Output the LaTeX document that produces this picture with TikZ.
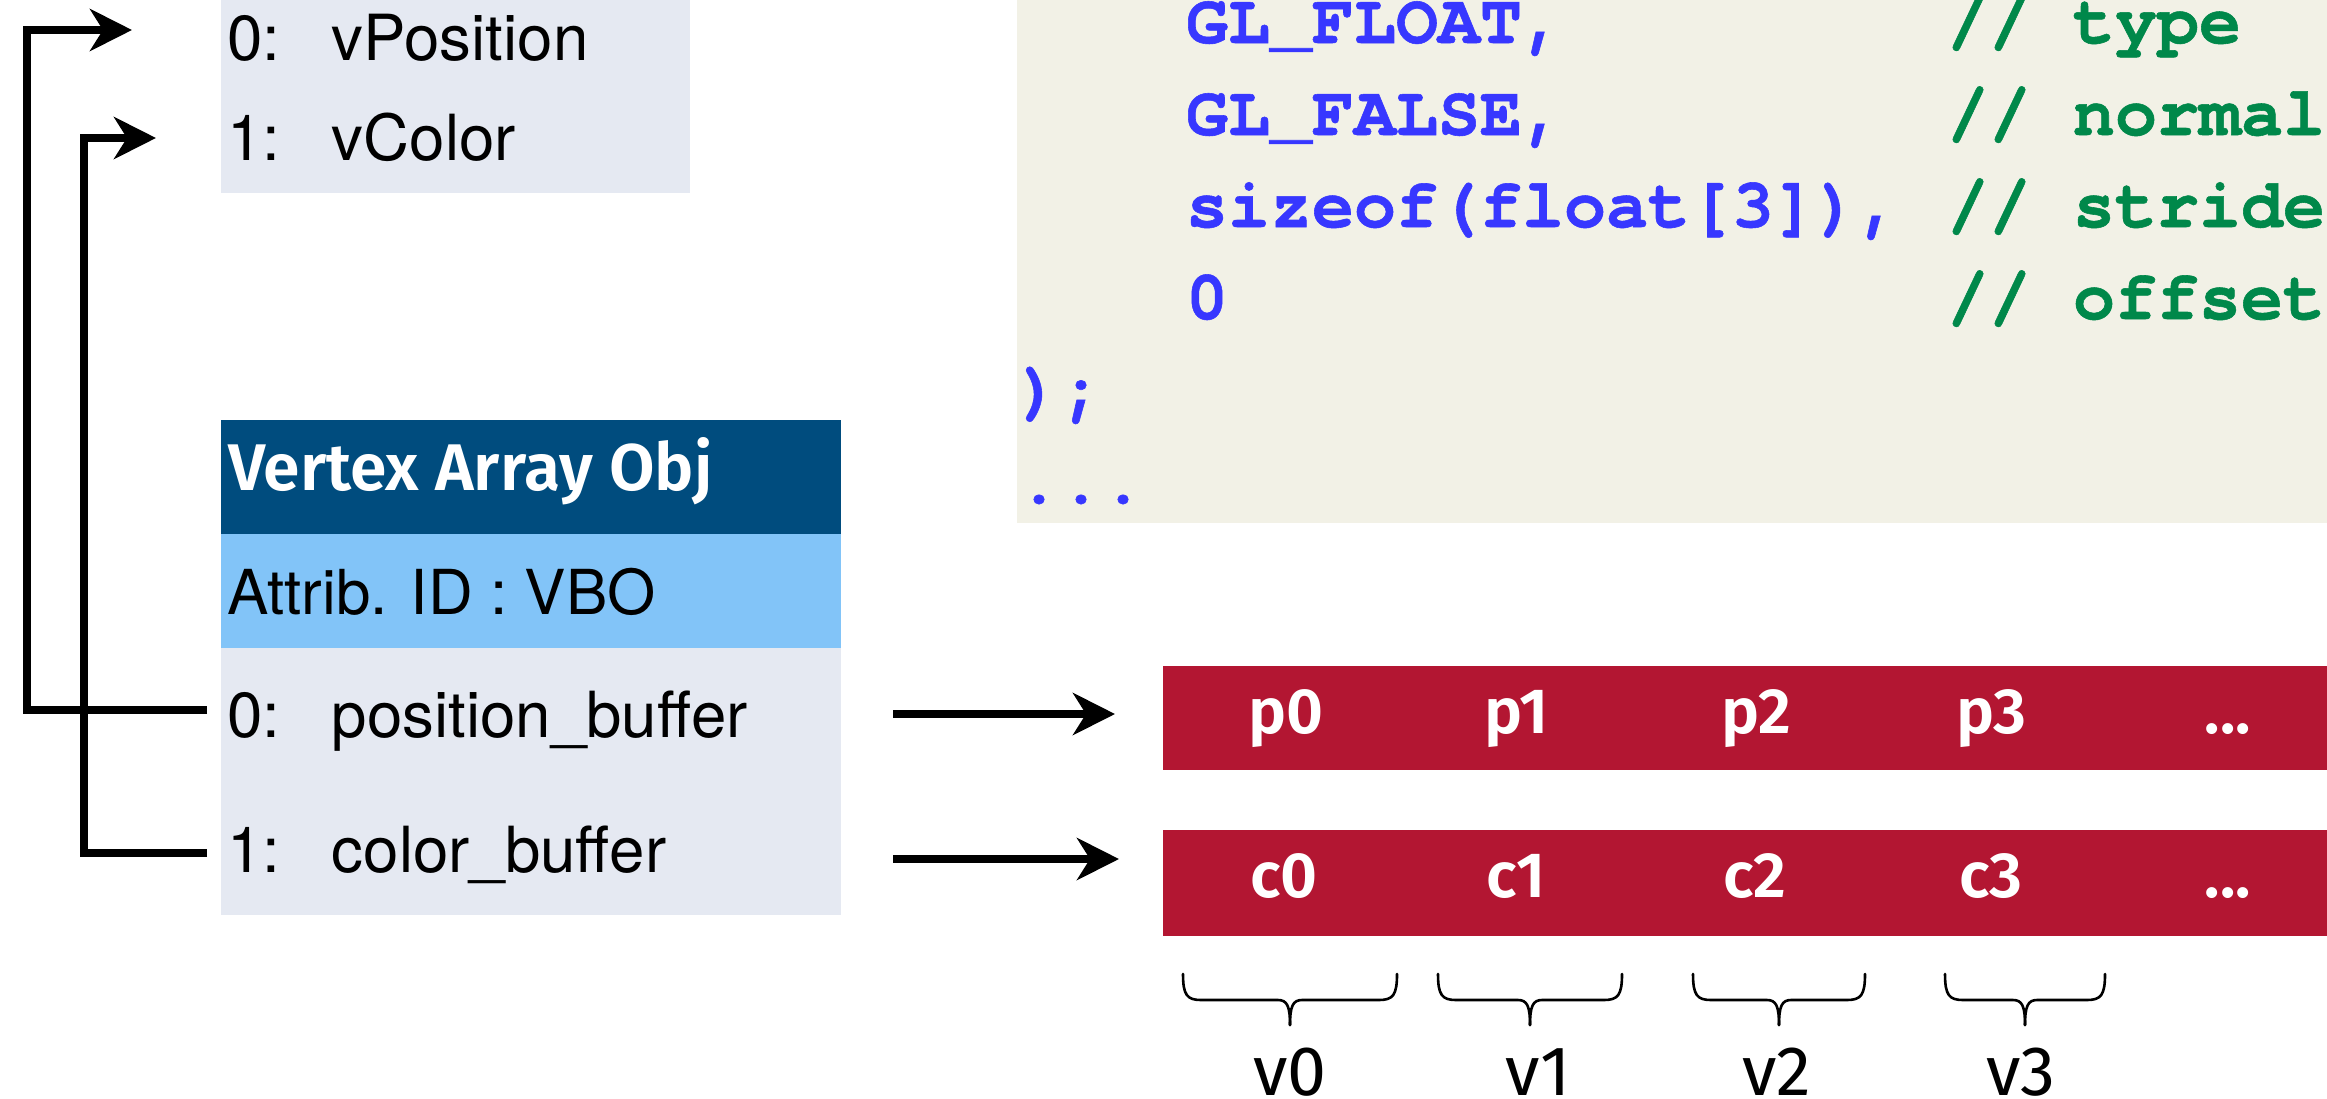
\documentclass[tikz,border=0pt]{standalone}
\usepackage{fontspec}
\setmainfont{TeX Gyre Heros}
\newfontfamily\firareg{Fira Sans}
\IfFontExistsTF{Fira Sans SemiBold}{\newfontfamily\firasemi{Fira Sans SemiBold}}{\newfontfamily\firasemi{Fira Sans}[FakeBold=1.2]}
\IfFontExistsTF{TeX Gyre Cursor}{\newfontfamily\codefont{TeX Gyre Cursor}[Ligatures={NoCommon,NoRequired}, BoldFeatures={FakeBold=0.8}]}{\newfontfamily\codefont{Liberation Mono}}
\usetikzlibrary{arrows.meta}

\definecolor{vaoHead}{RGB}{0,76,126}
\definecolor{vaoAttr}{RGB}{130,196,248}
\definecolor{rowGray}{RGB}{229,233,242}
\definecolor{codeBg}{RGB}{242,241,230}
\definecolor{codeBlue}{RGB}{55,55,255}
\definecolor{codeGreen}{RGB}{0,136,74}
\definecolor{bufRed}{RGB}{179,22,50}

\tikzset{
  plain/.style={inner sep=0pt, outer sep=0pt},
  panel/.style={plain, anchor=north west, draw=none},
  helv/.style={plain, anchor=base west, font=\fontsize{31.8}{32}\selectfont},
  codetxt/.style={plain, anchor=base west, text=codeBlue, font=\codefont\bfseries\fontsize{35}{35}\selectfont},
  commenttxt/.style={codetxt, text=codeGreen},
  celltxt/.style={plain, anchor=base, text=white, font=\firasemi\fontsize{32}{32}\selectfont},
  vlabel/.style={plain, anchor=base, text depth=0pt, font=\firareg\fontsize{35}{35}\selectfont},
  arr/.style={line width=3.75pt, -{Stealth[length=21pt,width=21pt,inset=6.5pt]}},
  bracestyle/.style={line width=1.3pt, line cap=round},
}

\newcommand\drawbrace[3]{%
  \draw[bracestyle] (#1,974) .. controls (#1,995) and (#1+4,1000) .. (#1+18,1000)
     -- (#2-12,1000) .. controls (#2-3,1000) and (#2,1006) .. (#2,1025);
  \draw[bracestyle] (#3,974) .. controls (#3,995) and (#3-4,1000) .. (#3-18,1000)
     -- (#2+12,1000) .. controls (#2+3,1000) and (#2,1006) .. (#2,1025);}

\begin{document}
\begin{tikzpicture}[x=0.5pt,y=-0.5pt]
\useasboundingbox (0,0) rectangle (2327,1098);
\clip (0,0) rectangle (2327,1098);

% ---- panels
\node[panel, fill=rowGray, minimum width=234.5pt, minimum height=101.5pt] (shader) at (221,-10) {};
\node[panel, fill=codeBg, minimum width=661.5pt, minimum height=266.5pt] (codebox) at (1017,-10) {};
\node[panel, fill=vaoHead, minimum width=310pt, minimum height=57pt] (vaohead) at (221,420) {};
\node[panel, fill=vaoAttr, minimum width=310pt, minimum height=57pt] (vaoattr) at (221,534) {};
\node[panel, fill=rowGray, minimum width=310pt, minimum height=133.5pt] (vaorows) at (221,648) {};
\node[panel, fill=bufRed, minimum width=588.5pt, minimum height=52pt] (pbar) at (1163,666) {};
\node[panel, fill=bufRed, minimum width=588.5pt, minimum height=53pt] (cbar) at (1163,830) {};

% ---- shader attribute list
\node[helv] (vpos) at (227,60) {\makebox[52.5pt][l]{0:}vPosition};
\node[helv] (vcol) at (227,160) {\makebox[52.5pt][l]{1:}vColor};

% ---- VAO
\node[plain, anchor=base west, text=white, font=\firasemi\fontsize{33}{33}\selectfont] (vaotitle) at (228,490) {Vertex Array Obj};
\node[helv, font=\fontsize{31}{31}\selectfont] (attrid) at (227,614) {Attrib. ID : VBO};
\node[helv] (posbuf) at (227,737) {\makebox[52.5pt][l]{0:}position\_buffer};
\node[helv] (colbuf) at (227,872) {\makebox[52.5pt][l]{1:}color\_buffer};

% ---- code
\node[codetxt] (c1) at (1186,43) {GL\_FLOAT,};
\node[codetxt] (c2) at (1186,135) {GL\_FALSE,};
\node[codetxt] (c3) at (1186,227) {sizeof(float[3]),};
\node[codetxt] (c4) at (1186,319) {0};
\node[codetxt] (c5) at (1018,411) {);};
\node[codetxt] (c6) at (1018,503) {...};
\node[commenttxt] (k1) at (1947,43) {// type};
\node[commenttxt] (k2) at (1947,135) {// normal};
\node[commenttxt] (k3) at (1947,227) {// stride};
\node[commenttxt] (k4) at (1947,319) {// offset};

% ---- buffer cells
\node[celltxt] (p0) at (1286,733) {p0};
\node[celltxt] (p1) at (1517,733) {p1};
\node[celltxt] (p2) at (1756,733) {p2};
\node[celltxt] (p3) at (1991,733) {p3};
\node[celltxt] (pd) at (2228,733) {...};
\node[celltxt] (q0) at (1284,897) {c0};
\node[celltxt] (q1) at (1516,897) {c1};
\node[celltxt] (q2) at (1755,897) {c2};
\node[celltxt] (q3) at (1991,897) {c3};
\node[celltxt] (qd) at (2228,897) {...};

% ---- braces and vertex labels
\drawbrace{1183}{1290}{1397}
\drawbrace{1438}{1530}{1622}
\drawbrace{1693}{1779}{1865}
\drawbrace{1945}{2025}{2105}
\node[vlabel] (v0) at (1290,1095) {v0};
\node[vlabel] (v1) at (1538,1095) {v1};
\node[vlabel] (v2) at (1777,1095) {v2};
\node[vlabel] (v3) at (2021,1095) {v3};

% ---- connectors
\coordinate (aStart) at (207,710);
\coordinate (aTip) at (132,30);
\coordinate (bStart) at (207,853);
\coordinate (bTip) at (156,138);
\draw[arr] (aStart) -- (27,710) -- (27,30) -- (aTip);
\draw[arr] (bStart) -- (84,853) -- (84,138) -- (bTip);
\coordinate (pStart) at (893,714);
\coordinate (pTip) at (1115,714);
\coordinate (cStart) at (893,859);
\coordinate (cTip) at (1119,859);
\draw[arr] (pStart) -- (pTip);
\draw[arr] (cStart) -- (cTip);
\end{tikzpicture}
\end{document}
